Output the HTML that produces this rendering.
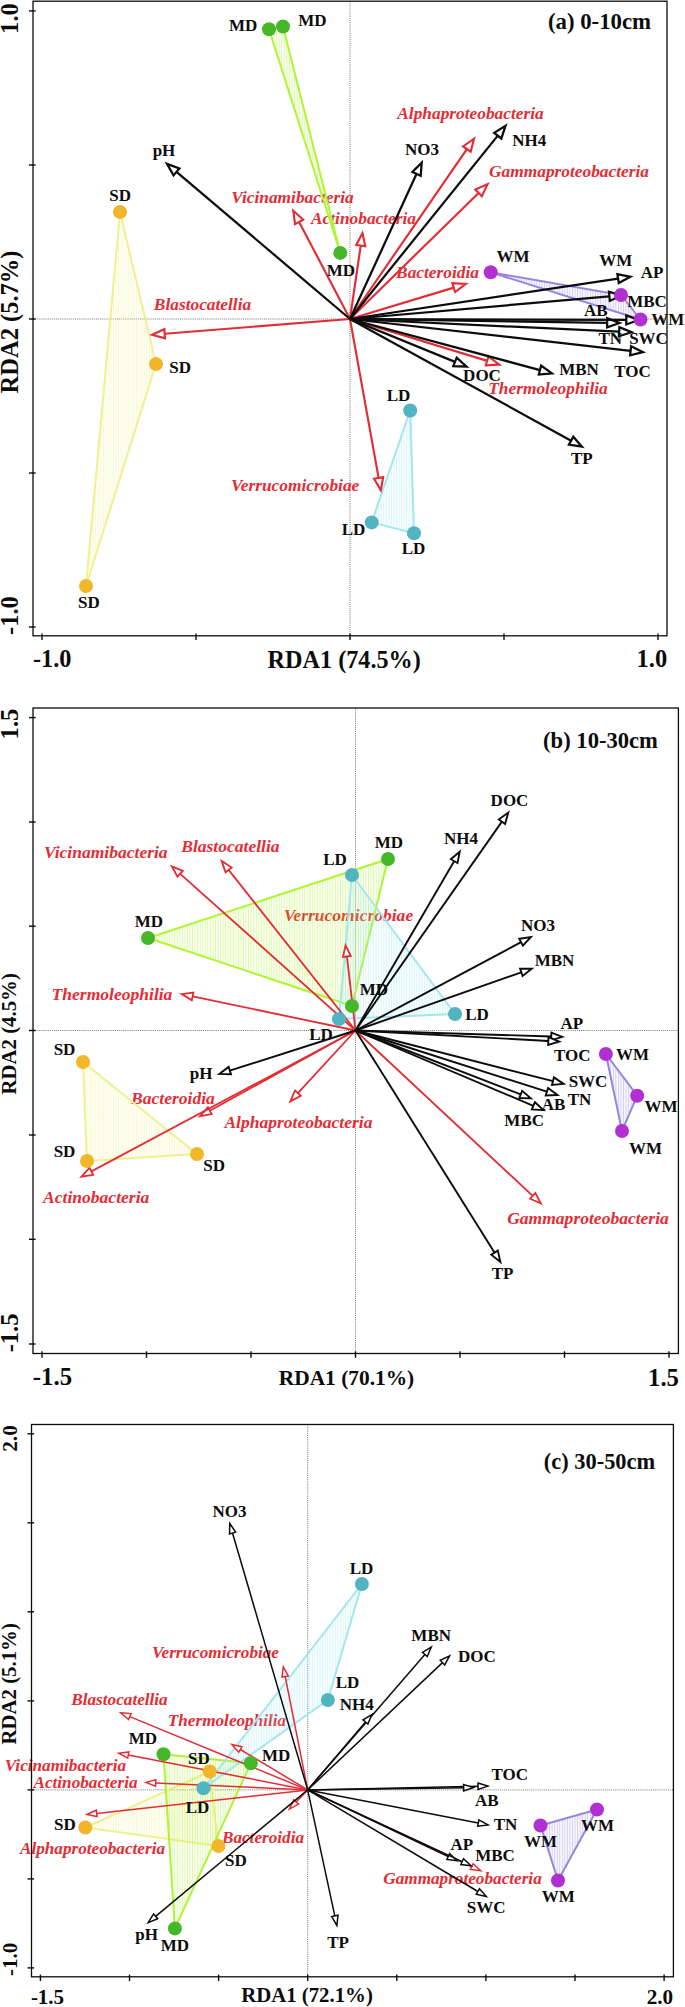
<!DOCTYPE html>
<html><head><meta charset="utf-8"><title>RDA biplots</title>
<style>
html,body{margin:0;padding:0;background:#fff;}
body{width:685px;height:2007px;overflow:hidden;font-family:"Liberation Serif",serif;}
svg{display:block;font-family:"Liberation Serif",serif;font-weight:bold;}
</style></head><body>
<svg width="685" height="2007" viewBox="0 0 685 2007">
<defs>
<pattern id="hMD" width="2.55" height="8" patternUnits="userSpaceOnUse"><rect width="2.55" height="8" fill="#b0f436" fill-opacity="0.07"/><rect x="0.9" width="0.7" height="8" fill="#b0f436" fill-opacity="0.45"/></pattern>
<pattern id="hSD" width="2.55" height="8" patternUnits="userSpaceOnUse"><rect width="2.55" height="8" fill="#f1f091" fill-opacity="0.07"/><rect x="0.9" width="0.7" height="8" fill="#f1f091" fill-opacity="0.45"/></pattern>
<pattern id="hLD" width="2.55" height="8" patternUnits="userSpaceOnUse"><rect width="2.55" height="8" fill="#a4e6ee" fill-opacity="0.07"/><rect x="0.9" width="0.7" height="8" fill="#a4e6ee" fill-opacity="0.45"/></pattern>
<pattern id="hWM" width="2.55" height="8" patternUnits="userSpaceOnUse"><rect width="2.55" height="8" fill="#9885de" fill-opacity="0.07"/><rect x="0.9" width="0.7" height="8" fill="#9885de" fill-opacity="0.45"/></pattern>
</defs>
<rect width="100%" height="100%" fill="#fff"/>
<g>
<line x1="33" y1="319" x2="667" y2="319" stroke="#666" stroke-width="0.9" stroke-dasharray="1 1.1"/>
<line x1="350" y1="1.2" x2="350" y2="635.8" stroke="#666" stroke-width="0.9" stroke-dasharray="1 1.1"/>
<text x="470.5" y="119.0" font-size="17.35" fill="#e32d35" font-style="italic" text-anchor="middle">Alphaproteobacteria</text>
<text x="569.0" y="177.0" font-size="17.35" fill="#e32d35" font-style="italic" text-anchor="middle">Gammaproteobacteria</text>
<text x="292.5" y="203.0" font-size="17.35" fill="#e32d35" font-style="italic" text-anchor="middle">Vicinamibacteria</text>
<text x="363.5" y="224.4" font-size="17.35" fill="#e32d35" font-style="italic" text-anchor="middle">Actinobacteria</text>
<text x="437.5" y="278.0" font-size="17.35" fill="#e32d35" font-style="italic" text-anchor="middle">Bacteroidia</text>
<text x="202.5" y="310.0" font-size="17.35" fill="#e32d35" font-style="italic" text-anchor="middle">Blastocatellia</text>
<text x="548.0" y="393.7" font-size="17.35" fill="#e32d35" font-style="italic" text-anchor="middle">Thermoleophilia</text>
<text x="295.2" y="490.6" font-size="17.35" fill="#e32d35" font-style="italic" text-anchor="middle">Verrucomicrobiae</text>
<polygon points="269.0,29.3 283.0,26.5 340.3,252.9" fill="url(#hMD)" stroke="#b0f436" stroke-width="2" stroke-linejoin="round"/>
<polygon points="120.0,212.0 156.0,364.0 86.0,586.0" fill="url(#hSD)" stroke="#f1f091" stroke-width="2" stroke-linejoin="round"/>
<polygon points="410.2,410.5 371.7,522.4 414.0,533.2" fill="url(#hLD)" stroke="#a4e6ee" stroke-width="2" stroke-linejoin="round"/>
<polygon points="490.7,272.3 621.0,295.0 640.5,319.5" fill="url(#hWM)" stroke="#9885de" stroke-width="2" stroke-linejoin="round"/>
<line x1="350.0" y1="319.0" x2="466.9" y2="149.1" stroke="#e32d35" stroke-width="2.15"/>
<polygon points="474.0,138.7 470.7,151.7 463.1,146.4" fill="#fff" stroke="#e32d35" stroke-width="2.15" stroke-linejoin="miter" stroke-miterlimit="10"/>
<line x1="350.0" y1="319.0" x2="478.6" y2="192.9" stroke="#e32d35" stroke-width="2.15"/>
<polygon points="487.6,184.1 481.8,196.2 475.3,189.6" fill="#fff" stroke="#e32d35" stroke-width="2.15" stroke-linejoin="miter" stroke-miterlimit="10"/>
<line x1="350.0" y1="319.0" x2="299.1" y2="221.9" stroke="#e32d35" stroke-width="2.15"/>
<polygon points="293.3,210.8 303.2,219.8 295.0,224.1" fill="#fff" stroke="#e32d35" stroke-width="2.15" stroke-linejoin="miter" stroke-miterlimit="10"/>
<line x1="350.0" y1="319.0" x2="360.7" y2="245.6" stroke="#e32d35" stroke-width="2.15"/>
<polygon points="362.5,233.1 365.3,246.2 356.2,244.9" fill="#fff" stroke="#e32d35" stroke-width="2.15" stroke-linejoin="miter" stroke-miterlimit="10"/>
<line x1="350.0" y1="319.0" x2="453.8" y2="287.6" stroke="#e32d35" stroke-width="2.15"/>
<polygon points="465.8,283.9 455.1,292.0 452.4,283.1" fill="#fff" stroke="#e32d35" stroke-width="2.15" stroke-linejoin="miter" stroke-miterlimit="10"/>
<line x1="350.0" y1="319.0" x2="164.7" y2="333.8" stroke="#e32d35" stroke-width="2.15"/>
<polygon points="152.1,334.8 164.3,329.2 165.0,338.3" fill="#fff" stroke="#e32d35" stroke-width="2.15" stroke-linejoin="miter" stroke-miterlimit="10"/>
<line x1="350.0" y1="319.0" x2="487.2" y2="360.9" stroke="#e32d35" stroke-width="2.15"/>
<polygon points="499.2,364.6 485.8,365.3 488.5,356.5" fill="#fff" stroke="#e32d35" stroke-width="2.15" stroke-linejoin="miter" stroke-miterlimit="10"/>
<line x1="350.0" y1="319.0" x2="378.6" y2="477.9" stroke="#e32d35" stroke-width="2.15"/>
<polygon points="380.8,490.3 374.1,478.7 383.2,477.1" fill="#fff" stroke="#e32d35" stroke-width="2.15" stroke-linejoin="miter" stroke-miterlimit="10"/>
<line x1="350.0" y1="319.0" x2="176.5" y2="171.9" stroke="#0c0c0c" stroke-width="2.25"/>
<polygon points="167.0,163.9 179.4,168.5 173.5,175.4" fill="#fff" stroke="#0c0c0c" stroke-width="2.25" stroke-linejoin="miter" stroke-miterlimit="10"/>
<line x1="350.0" y1="319.0" x2="416.6" y2="173.8" stroke="#0c0c0c" stroke-width="2.25"/>
<polygon points="421.7,162.6 420.7,175.7 412.4,172.0" fill="#fff" stroke="#0c0c0c" stroke-width="2.25" stroke-linejoin="miter" stroke-miterlimit="10"/>
<line x1="350.0" y1="319.0" x2="497.8" y2="135.6" stroke="#0c0c0c" stroke-width="2.25"/>
<polygon points="505.5,125.9 501.3,138.5 494.2,132.8" fill="#fff" stroke="#0c0c0c" stroke-width="2.25" stroke-linejoin="miter" stroke-miterlimit="10"/>
<line x1="350.0" y1="319.0" x2="618.1" y2="278.6" stroke="#0c0c0c" stroke-width="2.25"/>
<polygon points="630.4,276.8 618.8,283.1 617.4,274.1" fill="#fff" stroke="#0c0c0c" stroke-width="2.25" stroke-linejoin="miter" stroke-miterlimit="10"/>
<line x1="350.0" y1="319.0" x2="607.1" y2="322.8" stroke="#0c0c0c" stroke-width="2.25"/>
<polygon points="619.5,323.0 607.1,327.3 607.2,318.2" fill="#fff" stroke="#0c0c0c" stroke-width="2.25" stroke-linejoin="miter" stroke-miterlimit="10"/>
<line x1="350.0" y1="319.0" x2="609.4" y2="296.4" stroke="#0c0c0c" stroke-width="2.25"/>
<polygon points="621.7,295.3 609.8,300.9 609.0,291.8" fill="#fff" stroke="#0c0c0c" stroke-width="2.25" stroke-linejoin="miter" stroke-miterlimit="10"/>
<line x1="350.0" y1="319.0" x2="626.3" y2="319.9" stroke="#0c0c0c" stroke-width="2.25"/>
<polygon points="638.7,320.0 626.3,324.5 626.3,315.4" fill="#fff" stroke="#0c0c0c" stroke-width="2.25" stroke-linejoin="miter" stroke-miterlimit="10"/>
<line x1="350.0" y1="319.0" x2="619.1" y2="331.7" stroke="#0c0c0c" stroke-width="2.25"/>
<polygon points="631.5,332.2 618.9,336.2 619.4,327.1" fill="#fff" stroke="#0c0c0c" stroke-width="2.25" stroke-linejoin="miter" stroke-miterlimit="10"/>
<line x1="350.0" y1="319.0" x2="630.6" y2="350.8" stroke="#0c0c0c" stroke-width="2.25"/>
<polygon points="642.9,352.2 630.1,355.3 631.1,346.3" fill="#fff" stroke="#0c0c0c" stroke-width="2.25" stroke-linejoin="miter" stroke-miterlimit="10"/>
<line x1="350.0" y1="319.0" x2="540.0" y2="370.1" stroke="#0c0c0c" stroke-width="2.25"/>
<polygon points="551.9,373.3 538.8,374.5 541.1,365.7" fill="#fff" stroke="#0c0c0c" stroke-width="2.25" stroke-linejoin="miter" stroke-miterlimit="10"/>
<line x1="350.0" y1="319.0" x2="455.0" y2="361.9" stroke="#0c0c0c" stroke-width="2.25"/>
<polygon points="466.5,366.6 453.3,366.1 456.7,357.7" fill="#fff" stroke="#0c0c0c" stroke-width="2.25" stroke-linejoin="miter" stroke-miterlimit="10"/>
<line x1="350.0" y1="319.0" x2="571.1" y2="440.7" stroke="#0c0c0c" stroke-width="2.25"/>
<polygon points="581.9,446.7 568.9,444.7 573.3,436.8" fill="#fff" stroke="#0c0c0c" stroke-width="2.25" stroke-linejoin="miter" stroke-miterlimit="10"/>
<circle cx="269.0" cy="29.3" r="7" fill="#45b729"/>
<circle cx="283.0" cy="26.5" r="7" fill="#45b729"/>
<circle cx="340.3" cy="252.9" r="7" fill="#45b729"/>
<circle cx="120.0" cy="212.0" r="7" fill="#f1b62a"/>
<circle cx="156.0" cy="364.0" r="7" fill="#f1b62a"/>
<circle cx="86.0" cy="586.0" r="7" fill="#f1b62a"/>
<circle cx="410.2" cy="410.5" r="7" fill="#52b4c1"/>
<circle cx="371.7" cy="522.4" r="7" fill="#52b4c1"/>
<circle cx="414.0" cy="533.2" r="7" fill="#52b4c1"/>
<circle cx="490.7" cy="272.3" r="7" fill="#b030d2"/>
<circle cx="621.0" cy="295.0" r="7" fill="#b030d2"/>
<circle cx="640.5" cy="319.5" r="7" fill="#b030d2"/>
<text x="164.0" y="156.0" font-size="17" fill="#0c0c0c" text-anchor="middle">pH</text>
<text x="422.0" y="155.0" font-size="17" fill="#0c0c0c" text-anchor="middle">NO3</text>
<text x="529.3" y="146.0" font-size="17" fill="#0c0c0c" text-anchor="middle">NH4</text>
<text x="652.0" y="277.5" font-size="17" fill="#0c0c0c" text-anchor="middle">AP</text>
<text x="595.7" y="316.0" font-size="17" fill="#0c0c0c" text-anchor="middle">AB</text>
<text x="647.0" y="307.0" font-size="17" fill="#0c0c0c" text-anchor="middle">MBC</text>
<text x="610.3" y="343.5" font-size="17" fill="#0c0c0c" text-anchor="middle">TN</text>
<text x="648.5" y="343.5" font-size="17" fill="#0c0c0c" text-anchor="middle">SWC</text>
<text x="632.5" y="377.0" font-size="17" fill="#0c0c0c" text-anchor="middle">TOC</text>
<text x="579.0" y="375.0" font-size="17" fill="#0c0c0c" text-anchor="middle">MBN</text>
<text x="482.0" y="380.7" font-size="17" fill="#0c0c0c" text-anchor="middle">DOC</text>
<text x="581.8" y="464.0" font-size="17" fill="#0c0c0c" text-anchor="middle">TP</text>
<text x="243.2" y="31.0" font-size="17" fill="#0c0c0c" text-anchor="middle">MD</text>
<text x="312.5" y="25.7" font-size="17" fill="#0c0c0c" text-anchor="middle">MD</text>
<text x="341.0" y="276.0" font-size="17" fill="#0c0c0c" text-anchor="middle">MD</text>
<text x="120.2" y="201.0" font-size="17" fill="#0c0c0c" text-anchor="middle">SD</text>
<text x="180.2" y="372.7" font-size="17" fill="#0c0c0c" text-anchor="middle">SD</text>
<text x="88.9" y="607.5" font-size="17" fill="#0c0c0c" text-anchor="middle">SD</text>
<text x="398.5" y="401.0" font-size="17" fill="#0c0c0c" text-anchor="middle">LD</text>
<text x="353.5" y="535.0" font-size="17" fill="#0c0c0c" text-anchor="middle">LD</text>
<text x="413.5" y="554.0" font-size="17" fill="#0c0c0c" text-anchor="middle">LD</text>
<text x="513.0" y="262.0" font-size="17" fill="#0c0c0c" text-anchor="middle">WM</text>
<text x="615.8" y="266.0" font-size="17" fill="#0c0c0c" text-anchor="middle">WM</text>
<text x="667.8" y="324.7" font-size="17" fill="#0c0c0c" text-anchor="middle">WM</text>
<rect x="33" y="1.2" width="634" height="634.5999999999999" fill="none" stroke="#0c0c0c" stroke-width="1.3"/>
<line x1="29" y1="10.9" x2="35.6" y2="10.9" stroke="#0c0c0c" stroke-width="1.4"/>
<line x1="29" y1="165" x2="35.6" y2="165" stroke="#0c0c0c" stroke-width="1.4"/>
<line x1="29" y1="319" x2="35.6" y2="319" stroke="#0c0c0c" stroke-width="1.4"/>
<line x1="29" y1="473" x2="35.6" y2="473" stroke="#0c0c0c" stroke-width="1.4"/>
<line x1="29" y1="627" x2="35.6" y2="627" stroke="#0c0c0c" stroke-width="1.4"/>
<line x1="42" y1="633.5999999999999" x2="42" y2="640.0999999999999" stroke="#0c0c0c" stroke-width="1.4"/>
<line x1="196" y1="633.5999999999999" x2="196" y2="640.0999999999999" stroke="#0c0c0c" stroke-width="1.4"/>
<line x1="350" y1="633.5999999999999" x2="350" y2="640.0999999999999" stroke="#0c0c0c" stroke-width="1.4"/>
<line x1="504" y1="633.5999999999999" x2="504" y2="640.0999999999999" stroke="#0c0c0c" stroke-width="1.4"/>
<line x1="658" y1="633.5999999999999" x2="658" y2="640.0999999999999" stroke="#0c0c0c" stroke-width="1.4"/>
<text transform="translate(17.6,18.500000000000004) rotate(-90)" font-size="24.6" fill="#0c0c0c" text-anchor="middle">1.0</text>
<text transform="translate(17.6,615.6) rotate(-90)" font-size="24.4" fill="#0c0c0c" text-anchor="middle">-1.0</text>
<text transform="translate(18,322.0) rotate(-90)" font-size="24.5" fill="#0c0c0c" text-anchor="middle">RDA2 (5.7%)</text>
<text x="52.199999999999996" y="667" font-size="24.3" fill="#0c0c0c" text-anchor="middle">-1.0</text>
<text x="651.9" y="666.8" font-size="24.5" fill="#0c0c0c" text-anchor="middle">1.0</text>
<text x="344.20000000000005" y="668" font-size="24.2" fill="#0c0c0c" text-anchor="middle">RDA1 (74.5%)</text>
<text x="599.5" y="29" font-size="22.8" fill="#0c0c0c" text-anchor="middle">(a) 0-10cm</text>
</g>
<g>
<line x1="33" y1="1030.5" x2="678.4" y2="1030.5" stroke="#666" stroke-width="0.9" stroke-dasharray="1 1.1"/>
<line x1="355.5" y1="708" x2="355.5" y2="1353.5" stroke="#666" stroke-width="0.9" stroke-dasharray="1 1.1"/>
<text x="105.8" y="858.3" font-size="17.55" fill="#e32d35" font-style="italic" text-anchor="middle">Vicinamibacteria</text>
<text x="230.4" y="852.3" font-size="17.55" fill="#e32d35" font-style="italic" text-anchor="middle">Blastocatellia</text>
<text x="348.4" y="920.7" font-size="17.55" fill="#e32d35" font-style="italic" text-anchor="middle">Verrucomicrobiae</text>
<text x="112.0" y="999.5" font-size="17.55" fill="#e32d35" font-style="italic" text-anchor="middle">Thermoleophilia</text>
<text x="173.0" y="1104.0" font-size="17.55" fill="#e32d35" font-style="italic" text-anchor="middle">Bacteroidia</text>
<text x="298.4" y="1128.2" font-size="17.55" fill="#e32d35" font-style="italic" text-anchor="middle">Alphaproteobacteria</text>
<text x="96.2" y="1202.5" font-size="17.55" fill="#e32d35" font-style="italic" text-anchor="middle">Actinobacteria</text>
<text x="588.0" y="1223.5" font-size="17.55" fill="#e32d35" font-style="italic" text-anchor="middle">Gammaproteobacteria</text>
<polygon points="388.0,859.0 148.0,938.0 352.0,1006.0" fill="url(#hMD)" stroke="#b0f436" stroke-width="2" stroke-linejoin="round"/>
<polygon points="352.0,875.0 339.0,1019.0 455.0,1014.0" fill="url(#hLD)" stroke="#a4e6ee" stroke-width="2" stroke-linejoin="round"/>
<polygon points="83.0,1062.0 87.0,1161.0 197.0,1154.0" fill="url(#hSD)" stroke="#f1f091" stroke-width="2" stroke-linejoin="round"/>
<polygon points="605.9,1054.0 637.2,1095.7 622.0,1131.0" fill="url(#hWM)" stroke="#9885de" stroke-width="2" stroke-linejoin="round"/>
<line x1="355.5" y1="1030.5" x2="180.2" y2="873.8" stroke="#e32d35" stroke-width="1.8"/>
<polygon points="171.8,866.3 182.8,870.8 177.5,876.7" fill="#fff" stroke="#e32d35" stroke-width="1.8" stroke-linejoin="miter" stroke-miterlimit="10"/>
<line x1="355.5" y1="1030.5" x2="228.6" y2="869.9" stroke="#e32d35" stroke-width="1.8"/>
<polygon points="221.7,861.1 231.7,867.5 225.5,872.3" fill="#fff" stroke="#e32d35" stroke-width="1.8" stroke-linejoin="miter" stroke-miterlimit="10"/>
<line x1="355.5" y1="1030.5" x2="346.9" y2="956.4" stroke="#e32d35" stroke-width="1.8"/>
<polygon points="345.6,945.3 350.8,956.0 343.0,956.9" fill="#fff" stroke="#e32d35" stroke-width="1.8" stroke-linejoin="miter" stroke-miterlimit="10"/>
<line x1="355.5" y1="1030.5" x2="192.6" y2="996.4" stroke="#e32d35" stroke-width="1.8"/>
<polygon points="181.7,994.1 193.4,992.5 191.8,1000.2" fill="#fff" stroke="#e32d35" stroke-width="1.8" stroke-linejoin="miter" stroke-miterlimit="10"/>
<line x1="355.5" y1="1030.5" x2="209.8" y2="1110.7" stroke="#e32d35" stroke-width="1.8"/>
<polygon points="200.0,1116.1 207.9,1107.3 211.7,1114.1" fill="#fff" stroke="#e32d35" stroke-width="1.8" stroke-linejoin="miter" stroke-miterlimit="10"/>
<line x1="355.5" y1="1030.5" x2="297.9" y2="1093.2" stroke="#e32d35" stroke-width="1.8"/>
<polygon points="290.3,1101.4 295.0,1090.5 300.8,1095.8" fill="#fff" stroke="#e32d35" stroke-width="1.8" stroke-linejoin="miter" stroke-miterlimit="10"/>
<line x1="355.5" y1="1030.5" x2="91.4" y2="1171.4" stroke="#e32d35" stroke-width="1.8"/>
<polygon points="81.5,1176.6 89.5,1167.9 93.2,1174.8" fill="#fff" stroke="#e32d35" stroke-width="1.8" stroke-linejoin="miter" stroke-miterlimit="10"/>
<line x1="355.5" y1="1030.5" x2="532.7" y2="1195.9" stroke="#e32d35" stroke-width="1.8"/>
<polygon points="540.9,1203.5 530.1,1198.8 535.4,1193.0" fill="#fff" stroke="#e32d35" stroke-width="1.8" stroke-linejoin="miter" stroke-miterlimit="10"/>
<line x1="355.5" y1="1030.5" x2="501.9" y2="821.6" stroke="#0c0c0c" stroke-width="1.9"/>
<polygon points="508.3,812.6 505.1,823.9 498.8,819.4" fill="#fff" stroke="#0c0c0c" stroke-width="1.9" stroke-linejoin="miter" stroke-miterlimit="10"/>
<line x1="355.5" y1="1030.5" x2="454.1" y2="861.2" stroke="#0c0c0c" stroke-width="1.9"/>
<polygon points="459.7,851.7 457.5,863.1 450.8,859.2" fill="#fff" stroke="#0c0c0c" stroke-width="1.9" stroke-linejoin="miter" stroke-miterlimit="10"/>
<line x1="355.5" y1="1030.5" x2="521.1" y2="942.2" stroke="#0c0c0c" stroke-width="1.9"/>
<polygon points="530.8,937.0 522.9,945.6 519.3,938.8" fill="#fff" stroke="#0c0c0c" stroke-width="1.9" stroke-linejoin="miter" stroke-miterlimit="10"/>
<line x1="355.5" y1="1030.5" x2="521.3" y2="972.4" stroke="#0c0c0c" stroke-width="1.9"/>
<polygon points="531.7,968.7 522.6,976.0 520.1,968.7" fill="#fff" stroke="#0c0c0c" stroke-width="1.9" stroke-linejoin="miter" stroke-miterlimit="10"/>
<line x1="355.5" y1="1030.5" x2="551.3" y2="1036.5" stroke="#0c0c0c" stroke-width="1.9"/>
<polygon points="562.2,1036.8 551.1,1040.3 551.4,1032.6" fill="#fff" stroke="#0c0c0c" stroke-width="1.9" stroke-linejoin="miter" stroke-miterlimit="10"/>
<line x1="355.5" y1="1030.5" x2="548.3" y2="1041.0" stroke="#0c0c0c" stroke-width="1.9"/>
<polygon points="559.2,1041.6 548.1,1044.9 548.5,1037.2" fill="#fff" stroke="#0c0c0c" stroke-width="1.9" stroke-linejoin="miter" stroke-miterlimit="10"/>
<line x1="355.5" y1="1030.5" x2="553.0" y2="1081.2" stroke="#0c0c0c" stroke-width="1.9"/>
<polygon points="563.6,1083.9 552.0,1084.9 553.9,1077.4" fill="#fff" stroke="#0c0c0c" stroke-width="1.9" stroke-linejoin="miter" stroke-miterlimit="10"/>
<line x1="355.5" y1="1030.5" x2="546.9" y2="1091.7" stroke="#0c0c0c" stroke-width="1.9"/>
<polygon points="557.4,1095.0 545.7,1095.4 548.1,1088.0" fill="#fff" stroke="#0c0c0c" stroke-width="1.9" stroke-linejoin="miter" stroke-miterlimit="10"/>
<line x1="355.5" y1="1030.5" x2="520.7" y2="1094.4" stroke="#0c0c0c" stroke-width="1.9"/>
<polygon points="530.9,1098.4 519.3,1098.0 522.1,1090.8" fill="#fff" stroke="#0c0c0c" stroke-width="1.9" stroke-linejoin="miter" stroke-miterlimit="10"/>
<line x1="355.5" y1="1030.5" x2="533.3" y2="1105.8" stroke="#0c0c0c" stroke-width="1.9"/>
<polygon points="543.5,1110.1 531.8,1109.4 534.9,1102.2" fill="#fff" stroke="#0c0c0c" stroke-width="1.9" stroke-linejoin="miter" stroke-miterlimit="10"/>
<line x1="355.5" y1="1030.5" x2="229.8" y2="1070.6" stroke="#0c0c0c" stroke-width="1.9"/>
<polygon points="219.3,1073.9 228.6,1066.9 231.0,1074.3" fill="#fff" stroke="#0c0c0c" stroke-width="1.9" stroke-linejoin="miter" stroke-miterlimit="10"/>
<line x1="355.5" y1="1030.5" x2="494.6" y2="1252.7" stroke="#0c0c0c" stroke-width="1.9"/>
<polygon points="500.4,1262.0 491.3,1254.7 497.8,1250.6" fill="#fff" stroke="#0c0c0c" stroke-width="1.9" stroke-linejoin="miter" stroke-miterlimit="10"/>
<circle cx="388.0" cy="859.0" r="7" fill="#45b729"/>
<circle cx="148.0" cy="938.0" r="7" fill="#45b729"/>
<circle cx="352.0" cy="1006.0" r="7" fill="#45b729"/>
<circle cx="352.0" cy="875.0" r="7" fill="#52b4c1"/>
<circle cx="339.0" cy="1019.0" r="7" fill="#52b4c1"/>
<circle cx="455.0" cy="1014.0" r="7" fill="#52b4c1"/>
<circle cx="83.0" cy="1062.0" r="7" fill="#f1b62a"/>
<circle cx="87.0" cy="1161.0" r="7" fill="#f1b62a"/>
<circle cx="197.0" cy="1154.0" r="7" fill="#f1b62a"/>
<circle cx="605.9" cy="1054.0" r="7" fill="#b030d2"/>
<circle cx="637.2" cy="1095.7" r="7" fill="#b030d2"/>
<circle cx="622.0" cy="1131.0" r="7" fill="#b030d2"/>
<text x="509.5" y="806.0" font-size="17" fill="#0c0c0c" text-anchor="middle">DOC</text>
<text x="460.9" y="844.3" font-size="17" fill="#0c0c0c" text-anchor="middle">NH4</text>
<text x="538.0" y="931.0" font-size="17" fill="#0c0c0c" text-anchor="middle">NO3</text>
<text x="554.5" y="965.9" font-size="17" fill="#0c0c0c" text-anchor="middle">MBN</text>
<text x="571.9" y="1028.5" font-size="17" fill="#0c0c0c" text-anchor="middle">AP</text>
<text x="572.3" y="1061.0" font-size="17" fill="#0c0c0c" text-anchor="middle">TOC</text>
<text x="588.0" y="1087.2" font-size="17" fill="#0c0c0c" text-anchor="middle">SWC</text>
<text x="579.6" y="1105.4" font-size="17" fill="#0c0c0c" text-anchor="middle">TN</text>
<text x="553.5" y="1110.0" font-size="17" fill="#0c0c0c" text-anchor="middle">AB</text>
<text x="524.2" y="1125.6" font-size="17" fill="#0c0c0c" text-anchor="middle">MBC</text>
<text x="201.2" y="1079.0" font-size="17" fill="#0c0c0c" text-anchor="middle">pH</text>
<text x="502.5" y="1279.0" font-size="17" fill="#0c0c0c" text-anchor="middle">TP</text>
<text x="388.9" y="847.8" font-size="17" fill="#0c0c0c" text-anchor="middle">MD</text>
<text x="148.8" y="926.5" font-size="17" fill="#0c0c0c" text-anchor="middle">MD</text>
<text x="374.0" y="995.0" font-size="17" fill="#0c0c0c" text-anchor="middle">MD</text>
<text x="335.0" y="865.3" font-size="17" fill="#0c0c0c" text-anchor="middle">LD</text>
<text x="321.0" y="1040.0" font-size="17" fill="#0c0c0c" text-anchor="middle">LD</text>
<text x="477.1" y="1020.0" font-size="17" fill="#0c0c0c" text-anchor="middle">LD</text>
<text x="64.5" y="1054.6" font-size="17" fill="#0c0c0c" text-anchor="middle">SD</text>
<text x="64.5" y="1157.0" font-size="17" fill="#0c0c0c" text-anchor="middle">SD</text>
<text x="214.1" y="1171.0" font-size="17" fill="#0c0c0c" text-anchor="middle">SD</text>
<text x="632.4" y="1060.0" font-size="17" fill="#0c0c0c" text-anchor="middle">WM</text>
<text x="661.1" y="1112.0" font-size="17" fill="#0c0c0c" text-anchor="middle">WM</text>
<text x="645.5" y="1153.5" font-size="17" fill="#0c0c0c" text-anchor="middle">WM</text>
<rect x="33" y="708" width="645.4" height="645.5" fill="none" stroke="#0c0c0c" stroke-width="1.3"/>
<line x1="29" y1="717.6" x2="35.6" y2="717.6" stroke="#0c0c0c" stroke-width="1.4"/>
<line x1="29" y1="822" x2="35.6" y2="822" stroke="#0c0c0c" stroke-width="1.4"/>
<line x1="29" y1="926.2" x2="35.6" y2="926.2" stroke="#0c0c0c" stroke-width="1.4"/>
<line x1="29" y1="1030.5" x2="35.6" y2="1030.5" stroke="#0c0c0c" stroke-width="1.4"/>
<line x1="29" y1="1135" x2="35.6" y2="1135" stroke="#0c0c0c" stroke-width="1.4"/>
<line x1="29" y1="1239.3" x2="35.6" y2="1239.3" stroke="#0c0c0c" stroke-width="1.4"/>
<line x1="29" y1="1344" x2="35.6" y2="1344" stroke="#0c0c0c" stroke-width="1.4"/>
<line x1="42" y1="1351.3" x2="42" y2="1357.8" stroke="#0c0c0c" stroke-width="1.4"/>
<line x1="146.5" y1="1351.3" x2="146.5" y2="1357.8" stroke="#0c0c0c" stroke-width="1.4"/>
<line x1="251" y1="1351.3" x2="251" y2="1357.8" stroke="#0c0c0c" stroke-width="1.4"/>
<line x1="355.5" y1="1351.3" x2="355.5" y2="1357.8" stroke="#0c0c0c" stroke-width="1.4"/>
<line x1="460" y1="1351.3" x2="460" y2="1357.8" stroke="#0c0c0c" stroke-width="1.4"/>
<line x1="564.5" y1="1351.3" x2="564.5" y2="1357.8" stroke="#0c0c0c" stroke-width="1.4"/>
<line x1="669" y1="1351.3" x2="669" y2="1357.8" stroke="#0c0c0c" stroke-width="1.4"/>
<text transform="translate(17.6,724.0) rotate(-90)" font-size="24.6" fill="#0c0c0c" text-anchor="middle">1.5</text>
<text transform="translate(17.6,1332.8999999999999) rotate(-90)" font-size="24.6" fill="#0c0c0c" text-anchor="middle">-1.5</text>
<text transform="translate(16.1,1033.8) rotate(-90)" font-size="20.8" fill="#0c0c0c" text-anchor="middle">RDA2 (4.5%)</text>
<text x="52.5" y="1385" font-size="24.8" fill="#0c0c0c" text-anchor="middle">-1.5</text>
<text x="663.5" y="1385.6" font-size="24.8" fill="#0c0c0c" text-anchor="middle">1.5</text>
<text x="346.5" y="1385" font-size="21.4" fill="#0c0c0c" text-anchor="middle">RDA1 (70.1%)</text>
<text x="600.5" y="748" font-size="22.6" fill="#0c0c0c" text-anchor="middle">(b) 10-30cm</text>
</g>
<g>
<line x1="31.5" y1="1789.9" x2="673.4" y2="1789.9" stroke="#666" stroke-width="0.9" stroke-dasharray="1 1.1"/>
<line x1="307.7" y1="1424.5" x2="307.7" y2="1976.8" stroke="#666" stroke-width="0.9" stroke-dasharray="1 1.1"/>
<text x="215.5" y="1658.3" font-size="17.2" fill="#e32d35" font-style="italic" text-anchor="middle">Verrucomicrobiae</text>
<text x="119.5" y="1705.0" font-size="17.2" fill="#e32d35" font-style="italic" text-anchor="middle">Blastocatellia</text>
<text x="227.0" y="1725.8" font-size="17.2" fill="#e32d35" font-style="italic" text-anchor="middle">Thermoleophilia</text>
<text x="65.5" y="1770.7" font-size="17.2" fill="#e32d35" font-style="italic" text-anchor="middle">Vicinamibacteria</text>
<text x="85.5" y="1788.0" font-size="17.2" fill="#e32d35" font-style="italic" text-anchor="middle">Actinobacteria</text>
<text x="92.5" y="1853.9" font-size="17.2" fill="#e32d35" font-style="italic" text-anchor="middle">Alphaproteobacteria</text>
<text x="263.0" y="1843.4" font-size="17.2" fill="#e32d35" font-style="italic" text-anchor="middle">Bacteroidia</text>
<text x="462.5" y="1883.5" font-size="17.2" fill="#e32d35" font-style="italic" text-anchor="middle">Gammaproteobacteria</text>
<polygon points="209.8,1771.5 85.3,1827.5 218.4,1846.0" fill="url(#hSD)" stroke="#f1f091" stroke-width="2" stroke-linejoin="round"/>
<polygon points="163.5,1754.2 250.8,1763.3 174.9,1928.4" fill="url(#hMD)" stroke="#b0f436" stroke-width="2" stroke-linejoin="round"/>
<polygon points="361.9,1584.0 327.9,1700.0 203.5,1788.3" fill="url(#hLD)" stroke="#a4e6ee" stroke-width="2" stroke-linejoin="round"/>
<polygon points="540.5,1825.5 597.0,1809.5 558.0,1880.5" fill="url(#hWM)" stroke="#9885de" stroke-width="2" stroke-linejoin="round"/>
<line x1="307.7" y1="1789.9" x2="285.2" y2="1676.5" stroke="#e32d35" stroke-width="1.5"/>
<polygon points="283.3,1666.9 288.3,1675.9 282.0,1677.1" fill="#fff" stroke="#e32d35" stroke-width="1.5" stroke-linejoin="miter" stroke-miterlimit="10"/>
<line x1="307.7" y1="1789.9" x2="129.8" y2="1716.6" stroke="#e32d35" stroke-width="1.5"/>
<polygon points="120.7,1712.8 131.1,1713.6 128.6,1719.5" fill="#fff" stroke="#e32d35" stroke-width="1.5" stroke-linejoin="miter" stroke-miterlimit="10"/>
<line x1="307.7" y1="1789.9" x2="240.3" y2="1749.5" stroke="#e32d35" stroke-width="1.5"/>
<polygon points="231.9,1744.4 242.0,1746.7 238.7,1752.3" fill="#fff" stroke="#e32d35" stroke-width="1.5" stroke-linejoin="miter" stroke-miterlimit="10"/>
<line x1="307.7" y1="1789.9" x2="128.3" y2="1755.0" stroke="#e32d35" stroke-width="1.5"/>
<polygon points="118.7,1753.2 128.9,1751.9 127.7,1758.2" fill="#fff" stroke="#e32d35" stroke-width="1.5" stroke-linejoin="miter" stroke-miterlimit="10"/>
<line x1="307.7" y1="1789.9" x2="155.7" y2="1782.9" stroke="#e32d35" stroke-width="1.5"/>
<polygon points="145.9,1782.4 155.9,1779.7 155.6,1786.1" fill="#fff" stroke="#e32d35" stroke-width="1.5" stroke-linejoin="miter" stroke-miterlimit="10"/>
<line x1="307.7" y1="1789.9" x2="96.7" y2="1813.4" stroke="#e32d35" stroke-width="1.5"/>
<polygon points="86.9,1814.5 96.3,1810.2 97.0,1816.6" fill="#fff" stroke="#e32d35" stroke-width="1.5" stroke-linejoin="miter" stroke-miterlimit="10"/>
<line x1="307.7" y1="1789.9" x2="296.2" y2="1801.9" stroke="#e32d35" stroke-width="1.5"/>
<polygon points="289.4,1809.1 293.8,1799.7 298.5,1804.2" fill="#fff" stroke="#e32d35" stroke-width="1.5" stroke-linejoin="miter" stroke-miterlimit="10"/>
<line x1="307.7" y1="1789.9" x2="471.8" y2="1866.6" stroke="#e32d35" stroke-width="1.5"/>
<polygon points="480.7,1870.8 470.4,1869.5 473.2,1863.7" fill="#fff" stroke="#e32d35" stroke-width="1.5" stroke-linejoin="miter" stroke-miterlimit="10"/>
<line x1="307.7" y1="1789.9" x2="232.5" y2="1533.0" stroke="#0c0c0c" stroke-width="1.5"/>
<polygon points="229.8,1523.5 235.6,1532.1 229.5,1533.9" fill="#fff" stroke="#0c0c0c" stroke-width="1.5" stroke-linejoin="miter" stroke-miterlimit="10"/>
<line x1="307.7" y1="1789.9" x2="424.9" y2="1654.5" stroke="#0c0c0c" stroke-width="1.5"/>
<polygon points="431.3,1647.0 427.3,1656.6 422.5,1652.4" fill="#fff" stroke="#0c0c0c" stroke-width="1.5" stroke-linejoin="miter" stroke-miterlimit="10"/>
<line x1="307.7" y1="1789.9" x2="442.5" y2="1662.6" stroke="#0c0c0c" stroke-width="1.5"/>
<polygon points="449.6,1655.9 444.7,1664.9 440.3,1660.3" fill="#fff" stroke="#0c0c0c" stroke-width="1.5" stroke-linejoin="miter" stroke-miterlimit="10"/>
<line x1="307.7" y1="1789.9" x2="365.5" y2="1722.0" stroke="#0c0c0c" stroke-width="1.5"/>
<polygon points="371.8,1714.5 367.9,1724.1 363.0,1719.9" fill="#fff" stroke="#0c0c0c" stroke-width="1.5" stroke-linejoin="miter" stroke-miterlimit="10"/>
<line x1="307.7" y1="1789.9" x2="478.1" y2="1786.3" stroke="#0c0c0c" stroke-width="1.5"/>
<polygon points="487.9,1786.1 478.1,1789.5 478.0,1783.0" fill="#fff" stroke="#0c0c0c" stroke-width="1.5" stroke-linejoin="miter" stroke-miterlimit="10"/>
<line x1="307.7" y1="1789.9" x2="463.7" y2="1787.7" stroke="#0c0c0c" stroke-width="1.5"/>
<polygon points="473.5,1787.5 463.7,1790.9 463.6,1784.5" fill="#fff" stroke="#0c0c0c" stroke-width="1.5" stroke-linejoin="miter" stroke-miterlimit="10"/>
<line x1="307.7" y1="1789.9" x2="478.3" y2="1823.1" stroke="#0c0c0c" stroke-width="1.5"/>
<polygon points="487.9,1824.9 477.7,1826.2 478.9,1819.9" fill="#fff" stroke="#0c0c0c" stroke-width="1.5" stroke-linejoin="miter" stroke-miterlimit="10"/>
<line x1="307.7" y1="1789.9" x2="448.2" y2="1856.6" stroke="#0c0c0c" stroke-width="1.5"/>
<polygon points="457.1,1860.8 446.9,1859.5 449.6,1853.6" fill="#fff" stroke="#0c0c0c" stroke-width="1.5" stroke-linejoin="miter" stroke-miterlimit="10"/>
<line x1="307.7" y1="1789.9" x2="462.2" y2="1861.6" stroke="#0c0c0c" stroke-width="1.5"/>
<polygon points="471.1,1865.8 460.8,1864.6 463.5,1858.7" fill="#fff" stroke="#0c0c0c" stroke-width="1.5" stroke-linejoin="miter" stroke-miterlimit="10"/>
<line x1="307.7" y1="1789.9" x2="477.9" y2="1891.5" stroke="#0c0c0c" stroke-width="1.5"/>
<polygon points="486.3,1896.6 476.2,1894.3 479.5,1888.8" fill="#fff" stroke="#0c0c0c" stroke-width="1.5" stroke-linejoin="miter" stroke-miterlimit="10"/>
<line x1="307.7" y1="1789.9" x2="334.8" y2="1915.9" stroke="#0c0c0c" stroke-width="1.5"/>
<polygon points="336.9,1925.5 331.7,1916.6 338.0,1915.2" fill="#fff" stroke="#0c0c0c" stroke-width="1.5" stroke-linejoin="miter" stroke-miterlimit="10"/>
<line x1="307.7" y1="1789.9" x2="155.6" y2="1916.4" stroke="#0c0c0c" stroke-width="1.5"/>
<polygon points="148.1,1922.7 153.6,1913.9 157.7,1918.8" fill="#fff" stroke="#0c0c0c" stroke-width="1.5" stroke-linejoin="miter" stroke-miterlimit="10"/>
<circle cx="209.8" cy="1771.5" r="7" fill="#f1b62a"/>
<circle cx="85.3" cy="1827.5" r="7" fill="#f1b62a"/>
<circle cx="218.4" cy="1846.0" r="7" fill="#f1b62a"/>
<circle cx="163.5" cy="1754.2" r="7" fill="#45b729"/>
<circle cx="250.8" cy="1763.3" r="7" fill="#45b729"/>
<circle cx="174.9" cy="1928.4" r="7" fill="#45b729"/>
<circle cx="361.9" cy="1584.0" r="7" fill="#52b4c1"/>
<circle cx="327.9" cy="1700.0" r="7" fill="#52b4c1"/>
<circle cx="203.5" cy="1788.3" r="7" fill="#52b4c1"/>
<circle cx="540.5" cy="1825.5" r="7" fill="#b030d2"/>
<circle cx="597.0" cy="1809.5" r="7" fill="#b030d2"/>
<circle cx="558.0" cy="1880.5" r="7" fill="#b030d2"/>
<text x="229.5" y="1516.5" font-size="17" fill="#0c0c0c" text-anchor="middle">NO3</text>
<text x="431.2" y="1641.0" font-size="17" fill="#0c0c0c" text-anchor="middle">MBN</text>
<text x="476.9" y="1662.1" font-size="17" fill="#0c0c0c" text-anchor="middle">DOC</text>
<text x="356.7" y="1709.9" font-size="17" fill="#0c0c0c" text-anchor="middle">NH4</text>
<text x="509.8" y="1780.0" font-size="17" fill="#0c0c0c" text-anchor="middle">TOC</text>
<text x="486.8" y="1806.0" font-size="17" fill="#0c0c0c" text-anchor="middle">AB</text>
<text x="505.5" y="1830.1" font-size="17" fill="#0c0c0c" text-anchor="middle">TN</text>
<text x="461.8" y="1849.5" font-size="17" fill="#0c0c0c" text-anchor="middle">AP</text>
<text x="495.0" y="1860.5" font-size="17" fill="#0c0c0c" text-anchor="middle">MBC</text>
<text x="486.2" y="1913.0" font-size="17" fill="#0c0c0c" text-anchor="middle">SWC</text>
<text x="338.0" y="1948.0" font-size="17" fill="#0c0c0c" text-anchor="middle">TP</text>
<text x="146.6" y="1940.0" font-size="17" fill="#0c0c0c" text-anchor="middle">pH</text>
<text x="361.5" y="1573.6" font-size="17" fill="#0c0c0c" text-anchor="middle">LD</text>
<text x="347.6" y="1688.1" font-size="17" fill="#0c0c0c" text-anchor="middle">LD</text>
<text x="197.5" y="1813.3" font-size="17" fill="#0c0c0c" text-anchor="middle">LD</text>
<text x="142.8" y="1744.0" font-size="17" fill="#0c0c0c" text-anchor="middle">MD</text>
<text x="276.1" y="1760.7" font-size="17" fill="#0c0c0c" text-anchor="middle">MD</text>
<text x="175.0" y="1950.5" font-size="17" fill="#0c0c0c" text-anchor="middle">MD</text>
<text x="198.9" y="1764.3" font-size="17" fill="#0c0c0c" text-anchor="middle">SD</text>
<text x="64.8" y="1830.0" font-size="17" fill="#0c0c0c" text-anchor="middle">SD</text>
<text x="235.8" y="1865.5" font-size="17" fill="#0c0c0c" text-anchor="middle">SD</text>
<text x="540.5" y="1847.0" font-size="17" fill="#0c0c0c" text-anchor="middle">WM</text>
<text x="597.5" y="1831.0" font-size="17" fill="#0c0c0c" text-anchor="middle">WM</text>
<text x="558.2" y="1902.0" font-size="17" fill="#0c0c0c" text-anchor="middle">WM</text>
<rect x="31.5" y="1424.5" width="641.9" height="552.3" fill="none" stroke="#0c0c0c" stroke-width="1.3"/>
<line x1="27.5" y1="1433.8" x2="34.1" y2="1433.8" stroke="#0c0c0c" stroke-width="1.4"/>
<line x1="27.5" y1="1522.8" x2="34.1" y2="1522.8" stroke="#0c0c0c" stroke-width="1.4"/>
<line x1="27.5" y1="1611.8" x2="34.1" y2="1611.8" stroke="#0c0c0c" stroke-width="1.4"/>
<line x1="27.5" y1="1700.9" x2="34.1" y2="1700.9" stroke="#0c0c0c" stroke-width="1.4"/>
<line x1="27.5" y1="1789.9" x2="34.1" y2="1789.9" stroke="#0c0c0c" stroke-width="1.4"/>
<line x1="27.5" y1="1878.9" x2="34.1" y2="1878.9" stroke="#0c0c0c" stroke-width="1.4"/>
<line x1="27.5" y1="1967.9" x2="34.1" y2="1967.9" stroke="#0c0c0c" stroke-width="1.4"/>
<line x1="40.4" y1="1974.6" x2="40.4" y2="1981.1" stroke="#0c0c0c" stroke-width="1.4"/>
<line x1="129.5" y1="1974.6" x2="129.5" y2="1981.1" stroke="#0c0c0c" stroke-width="1.4"/>
<line x1="218.6" y1="1974.6" x2="218.6" y2="1981.1" stroke="#0c0c0c" stroke-width="1.4"/>
<line x1="307.7" y1="1974.6" x2="307.7" y2="1981.1" stroke="#0c0c0c" stroke-width="1.4"/>
<line x1="396.8" y1="1974.6" x2="396.8" y2="1981.1" stroke="#0c0c0c" stroke-width="1.4"/>
<line x1="485.9" y1="1974.6" x2="485.9" y2="1981.1" stroke="#0c0c0c" stroke-width="1.4"/>
<line x1="575" y1="1974.6" x2="575" y2="1981.1" stroke="#0c0c0c" stroke-width="1.4"/>
<line x1="664.1" y1="1974.6" x2="664.1" y2="1981.1" stroke="#0c0c0c" stroke-width="1.4"/>
<text transform="translate(16.8,1438.5) rotate(-90)" font-size="21.3" fill="#0c0c0c" text-anchor="middle">2.0</text>
<text transform="translate(16.8,1959.25) rotate(-90)" font-size="21" fill="#0c0c0c" text-anchor="middle">-1.0</text>
<text transform="translate(16.1,1683.8) rotate(-90)" font-size="20.8" fill="#0c0c0c" text-anchor="middle">RDA2 (5.1%)</text>
<text x="47.5" y="2004.3" font-size="21" fill="#0c0c0c" text-anchor="middle">-1.5</text>
<text x="659.9" y="2004.3" font-size="21.2" fill="#0c0c0c" text-anchor="middle">2.0</text>
<text x="307.0" y="2002.3" font-size="20.8" fill="#0c0c0c" text-anchor="middle">RDA1 (72.1%)</text>
<text x="599.5" y="1468.5" font-size="22.4" fill="#0c0c0c" text-anchor="middle">(c) 30-50cm</text>
</g>
</svg>
</body></html>
